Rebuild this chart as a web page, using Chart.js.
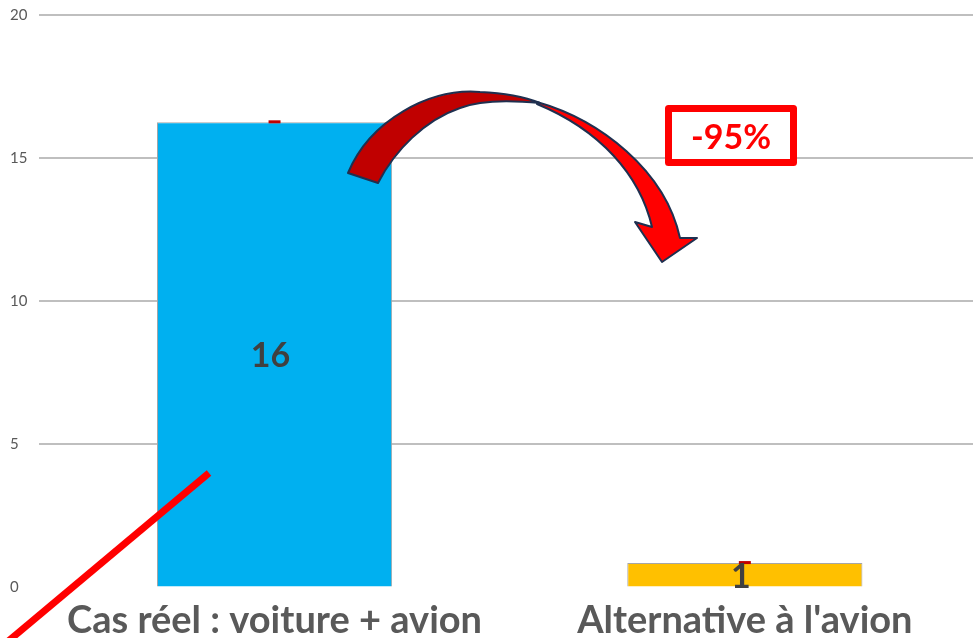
<!DOCTYPE html>
<html>
<head>
<meta charset="utf-8">
<script src="https://cdn.jsdelivr.net/npm/chart.js@4/dist/chart.umd.min.js"></script>
<style>
    html, body { margin: 0; padding: 0; background: #fff; overflow: hidden; }
    #wrap { position: relative; width: 980px; height: 647px; }
</style>
</head>
<body>
<div id="wrap"><canvas id="chart"></canvas></div>
<script>
// chart data
const categories = ['Cas réel : voiture + avion', "Alternative à l'avion"];
const values = [16.25, 0.85];
const yTicks = [0, 5, 10, 15, 20];
const reductionLabel = '-95%';

const barColors = ['#00b0f0', '#ffc000'];

// draws value labels, small error caps and the hand-drawn annotations
const decorations = {
    id: 'decorations',
    afterDatasetsDraw: function (chart) {
        var ctx = chart.ctx;
        var meta = chart.getDatasetMeta(0);
        var y = chart.scales.y;

        ctx.save();
        // small error caps at the top of each bar
        meta.data.forEach(function (bar, i) {
            ctx.fillStyle = '#c00000';
            ctx.fillRect(bar.x - 6, y.getPixelForValue(values[i]) - 2, 12, 3);
        });

        // value labels
        ctx.fillStyle = '#404040';
        ctx.font = 'bold 34px Lato';
        ctx.textAlign = 'center';
        ctx.textBaseline = 'middle';
        meta.data.forEach(function (bar, i) {
            var mid = (bar.y + bar.base) / 2;
            ctx.fillText(String(Math.round(values[i])), bar.x - 4, mid + 2);
        });

        // curved arrow, left half (dark red)
        ctx.lineJoin = 'round';
        ctx.strokeStyle = '#1f3050';
        ctx.lineWidth = 2;
        ctx.fillStyle = '#c00000';
        ctx.beginPath();
        ctx.moveTo(348, 173);
        ctx.bezierCurveTo(370, 120, 430, 88, 480, 92);
        ctx.bezierCurveTo(505, 93, 525, 97, 540, 103);
        ctx.bezierCurveTo(510, 100, 480, 100, 460, 108);
        ctx.bezierCurveTo(425, 120, 395, 150, 378, 183);
        ctx.closePath();
        ctx.fill();
        ctx.stroke();

        // curved arrow, right half (red) with head
        ctx.fillStyle = '#ff0000';
        ctx.beginPath();
        ctx.moveTo(537, 102);
        ctx.bezierCurveTo(600, 120, 665, 170, 680, 238);
        ctx.lineTo(697, 238);
        ctx.lineTo(662, 262);
        ctx.lineTo(635, 222);
        ctx.lineTo(652, 227);
        ctx.bezierCurveTo(640, 175, 600, 130, 537, 104);
        ctx.closePath();
        ctx.fill();
        ctx.stroke();

        // red stroke from bottom-left
        ctx.strokeStyle = '#ff0000';
        ctx.lineWidth = 7;
        ctx.lineCap = 'butt';
        ctx.beginPath();
        ctx.moveTo(209, 473);
        ctx.lineTo(0, 648);
        ctx.stroke();

        // "-95%" box
        ctx.fillStyle = '#ffffff';
        ctx.fillRect(668, 108, 126, 55);
        ctx.strokeStyle = '#ff0000';
        ctx.lineWidth = 7;
        ctx.strokeRect(668.5, 108.5, 125, 54);
        ctx.fillStyle = '#ff0000';
        ctx.font = 'bold 34px Lato';
        ctx.fillText(reductionLabel, 731, 138);
        ctx.restore();
    }
};

var ctx = document.getElementById('chart').getContext('2d');
var chart = new Chart(ctx, {
    type: 'bar',
    data: {
        labels: categories,
        datasets: [{
            data: values,
            backgroundColor: barColors,
            borderColor: '#a6a6a6',
            borderWidth: 1,
            categoryPercentage: 1,
            barPercentage: 0.5
        }]
    },
    options: {
        responsive: true,
        maintainAspectRatio: false,
        animation: false,
        layout: { padding: { left: 10, top: 10, right: 0, bottom: 0 } },
        plugins: {
            legend: { display: false },
            tooltip: { enabled: false }
        },
        scales: {
            x: {
                grid: { display: false },
                border: { display: false },
                ticks: {
                    color: '#595959',
                    font: { family: 'Lato', size: 38, weight: 'bold' },
                    padding: 3,
                    maxRotation: 0,
                    autoSkip: false
                }
            },
            y: {
                min: 0,
                max: 20,
                afterBuildTicks: function (axis) {
                    axis.ticks = yTicks.map(function (v) { return { value: v }; });
                },
                grid: {
                    color: function (c) { return c.tick && c.tick.value === 0 ? 'rgba(0,0,0,0)' : '#bfbfbf'; },
                    lineWidth: 2,
                    drawTicks: false
                },
                border: { display: false },
                ticks: {
                    color: '#595959',
                    font: { family: 'Lato', size: 15 },
                    crossAlign: 'far',
                    padding: 6
                }
            }
        }
    },
    plugins: [decorations]
});
</script>
</body>
</html>
